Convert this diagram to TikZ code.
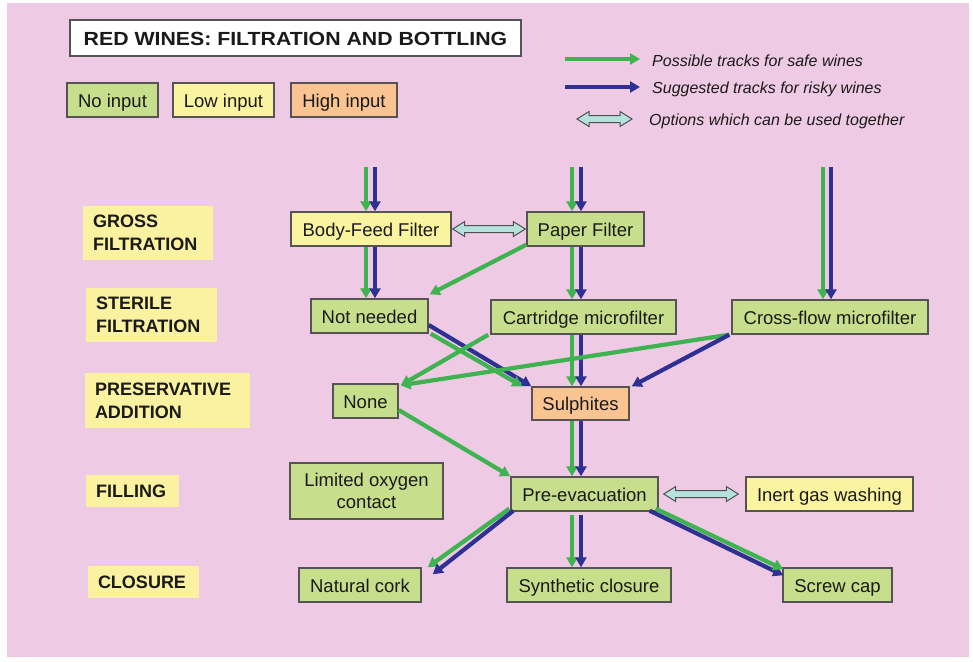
\documentclass[tikz,border=0pt]{standalone}
\usepackage{fontspec}
\setmainfont{Liberation Sans}
\newfontfamily\titlefont{Liberation Sans}[FakeStretch=1.12]
\usetikzlibrary{arrows.meta,calc}
\definecolor{bgpink}{HTML}{EFCAE4}
\definecolor{boxgreen}{HTML}{C7DE8C}
\definecolor{boxyellow}{HTML}{FAF4A0}
\definecolor{boxorange}{HTML}{F9C492}
\definecolor{stageyellow}{HTML}{FAF2A0}
\definecolor{boxline}{HTML}{555353}
\definecolor{arrgreen}{HTML}{3FB34F}
\definecolor{arrblue}{HTML}{2E3192}
\definecolor{dblfill}{HTML}{B6E2DE}
\definecolor{dblline}{HTML}{505050}
\definecolor{txt}{HTML}{1A1A1A}
\newcommand{\dblarr}[2]{%
  \draw[dbl] let \p1=(#1), \p2=(#2) in
    (\x1,\y1) -- (\x1+12pt,\y1+7.5pt) -- (\x1+12pt,\y1+3.5pt) -- (\x2-12pt,\y1+3.5pt)
    -- (\x2-12pt,\y1+7.5pt) -- (\x2,\y1) -- (\x2-12pt,\y1-7.5pt) -- (\x2-12pt,\y1-3.5pt)
    -- (\x1+12pt,\y1-3.5pt) -- (\x1+12pt,\y1-7.5pt) -- cycle;}
\begin{document}
\begin{tikzpicture}[x=1pt,y=-1pt,
  boxbase/.style={draw=boxline, line width=1.4pt, inner sep=0pt, text=txt,
    font=\fontsize{18.5}{22}\selectfont},
  box/.style={boxbase, text height=14.6pt, text depth=0pt},
  gbox/.style={box, fill=boxgreen},
  ybox/.style={box, fill=boxyellow},
  obox/.style={box, fill=boxorange},
  stage/.style={fill=stageyellow, inner xsep=10pt, inner ysep=0pt, align=left, text=txt,
    font=\fontsize{18}{23}\selectfont\bfseries},
  garr/.style={draw=arrgreen, line width=4.2pt, -{Triangle[length=10pt,width=11pt]}},
  barr/.style={draw=arrblue, line width=4.2pt, -{Triangle[length=10pt,width=11pt]}},
  dbl/.style={draw=dblline, fill=dblfill, line width=1pt, line join=miter},
  legtext/.style={anchor=west, text=txt, inner sep=0pt, font=\fontsize{16}{18}\selectfont\itshape}
]
\useasboundingbox (0,0) rectangle (973,661);
\fill[white] (0,0) rectangle (973,661);
\fill[bgpink] (7,3) rectangle (969,657);

% title and key
\node[draw=boxline, line width=1.4pt, fill=white, minimum width=451pt, minimum height=36pt, inner sep=0pt,
  text height=15pt, text depth=0pt,
  font=\titlefont\fontsize{19}{22}\selectfont\bfseries, text=txt] (title) at (295.5,38) {RED WINES: FILTRATION AND BOTTLING};
\node[gbox, minimum width=91pt, minimum height=34pt] (kno) at (112.5,100) {No input};
\node[ybox, minimum width=101pt, minimum height=34pt] (klow) at (223.5,100) {Low input};
\node[obox, minimum width=106pt, minimum height=34pt] (khigh) at (344,100) {High input};

\coordinate (lga) at (565,59); \coordinate (lgb) at (640,59);
\coordinate (lba) at (565,87); \coordinate (lbb) at (640,87);
\coordinate (lda) at (577,119); \coordinate (ldb) at (632,119);
\draw[garr] (lga) -- (lgb);
\draw[barr] (lba) -- (lbb);
\dblarr{lda}{ldb}
\node[legtext] (t1) at (652,61) {Possible tracks for safe wines};
\node[legtext] (t2) at (652,89) {Suggested tracks for risky wines};
\node[legtext] (t3) at (649,121) {Options which can be used together};

% stage labels
\node[stage, text width=110pt, minimum height=54pt] (sgross) at (148,233) {GROSS\\FILTRATION};
\node[stage, text width=111pt, minimum height=54pt] (ssterile) at (151.5,315) {STERILE\\FILTRATION};
\node[stage, text width=145pt, minimum height=55pt] (spres) at (167.5,400.5) {PRESERVATIVE\\ADDITION};
\node[stage, text width=73pt, minimum height=32pt] (sfill) at (132.5,491) {FILLING};
\node[stage, text width=91pt, minimum height=32pt] (sclos) at (143.5,582) {CLOSURE};

% process boxes
\node[ybox, minimum width=160pt, minimum height=34pt] (bf) at (371,229) {Body-Feed Filter};
\node[gbox, minimum width=117pt, minimum height=34pt] (pf) at (585.5,229) {Paper Filter};
\node[gbox, minimum width=117pt, minimum height=34pt] (nn) at (369.5,316) {Not needed};
\node[gbox, minimum width=185pt, minimum height=34pt] (cm) at (583.5,317) {Cartridge microfilter};
\node[gbox, minimum width=196pt, minimum height=34pt] (cf) at (830,317) {Cross-flow microfilter};
\node[gbox, minimum width=65pt, minimum height=34pt] (none) at (365.5,401) {None};
\node[obox, minimum width=97pt, minimum height=33pt] (sul) at (580.5,403.5) {Sulphites};
\node[boxbase, fill=boxgreen, align=center, minimum width=153pt, minimum height=56pt] (loc) at (366.5,491) {Limited oxygen\\contact};
\node[gbox, minimum width=147pt, minimum height=34pt] (pe) at (584.5,494) {Pre-evacuation};
\node[ybox, minimum width=167pt, minimum height=34pt] (ig) at (829.5,494) {Inert gas washing};
\node[gbox, minimum width=122pt, minimum height=34pt] (nc) at (360,585) {Natural cork};
\node[gbox, minimum width=164pt, minimum height=34pt] (sc) at (589,585) {Synthetic closure};
\node[gbox, minimum width=109pt, minimum height=34pt] (scr) at (837.5,585) {Screw cap};

% column guides
\coordinate (c1g) at (366,0); \coordinate (c1b) at (375,0);
\coordinate (c2g) at (572,0); \coordinate (c2b) at (581,0);
\coordinate (c3g) at (823,0); \coordinate (c3b) at (831,0);
\coordinate (topin) at (0,167);

% vertical pairs
\draw[garr] (topin -| c1g) -- (bf.north -| c1g);
\draw[barr] (topin -| c1b) -- (bf.north -| c1b);
\draw[garr] (topin -| c2g) -- (pf.north -| c2g);
\draw[barr] (topin -| c2b) -- (pf.north -| c2b);
\draw[garr] (topin -| c3g) -- (cf.north -| c3g);
\draw[barr] (topin -| c3b) -- (cf.north -| c3b);
\draw[garr] (bf.south -| c1g) -- (nn.north -| c1g);
\draw[barr] (bf.south -| c1b) -- (nn.north -| c1b);
\draw[garr] (pf.south -| c2g) -- (cm.north -| c2g);
\draw[barr] (pf.south -| c2b) -- (cm.north -| c2b);
\draw[garr] (cm.south -| c2g) -- (sul.north -| c2g);
\draw[barr] (cm.south -| c2b) -- (sul.north -| c2b);
\draw[garr] (sul.south -| c2g) -- (pe.north -| c2g);
\draw[barr] (sul.south -| c2b) -- (pe.north -| c2b);
\draw[garr] ([yshift=-3pt]pe.south -| c2g) -- (sc.north -| c2g);
\draw[barr] ([yshift=-3pt]pe.south -| c2b) -- (sc.north -| c2b);

% diagonals
\draw[garr] ([yshift=2pt]pf.south west) -- ([shift={(1pt,4pt)}]nn.north east);
\draw[barr] ([yshift=-9pt]nn.east) -- (sul.north west);
\draw[garr] ([xshift=2pt]nn.south east) -- ([xshift=-9pt]sul.north west);
\draw[garr] ([xshift=-2pt]cm.south west) -- ([shift={(2pt,-2pt)}]none.north east);
\draw[garr] ([xshift=-2pt]cf.south west) -- ([shift={(2pt,-2pt)}]none.north east);
\draw[barr] ([xshift=-2pt]cf.south west) -- ([xshift=2pt]sul.north east);
\draw[garr] ([yshift=-9pt]none.east) -- (pe.north west);
\draw[garr] ([shift={(-1pt,3pt)}]pe.south west) -- ([xshift=6pt]nc.north east);
\draw[barr] ([shift={(3pt,1pt)}]pe.south west) -- ([shift={(11pt,-7pt)}]nc.north east);
\draw[barr] ([shift={(-9pt,1pt)}]pe.south east) -- ([shift={(1pt,-8pt)}]scr.north west);
\draw[garr] ([shift={(-3pt,3pt)}]pe.south east) -- ([shift={(1pt,-2pt)}]scr.north west);

% double arrows
\dblarr{[xshift=1pt]bf.east}{[xshift=-1pt]pf.west}
\dblarr{[xshift=5pt]pe.east}{[xshift=-7pt]ig.west}
\end{tikzpicture}
\end{document}
